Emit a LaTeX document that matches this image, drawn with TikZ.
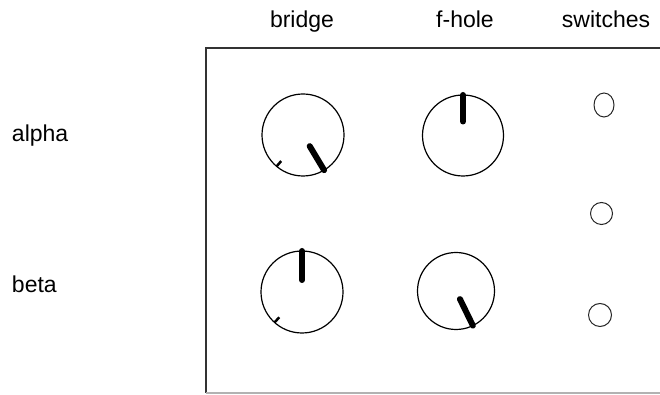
\documentclass[tikz,border=0pt]{standalone}
\usepackage{fontspec}
\setmainfont{Liberation Sans}
\usepackage{tikz}
\usetikzlibrary{shapes.geometric}

\begin{document}
\begin{tikzpicture}[x=1pt, y=1pt,
	every node/.style={inner sep=0pt, outer sep=0pt},
	knob/.style={circle, draw, line width=1.2pt, minimum size=80pt},
	switch/.style={ellipse, draw, line width=1pt, black!85},
	pointer/.style={line width=6pt, line cap=round},
	minmark/.style={line width=2.5pt},
	caption/.style={font=\fontsize{23}{27}\selectfont, anchor=base}]
	\useasboundingbox (0,0) rectangle (660,395);

	% panel outline
	\coordinate (tl) at (206,347);
	\coordinate (tr) at (660,347);
	\coordinate (bl) at (206,2);
	\coordinate (br) at (660,2);
	\draw[line width=1.6pt, black!80] (tr) -- (tl) -- (bl);
	\draw[line width=1.4pt, black!30] (bl) -- (br);

	% column and row captions
	\node[caption] (hBridge) at (302,367) {bridge};
	\node[caption] (hFhole)  at (465,367) {f-hole};
	\node[caption] (hSwitch) at (606,367) {switches};
	\node[caption, anchor=base west] (rAlpha) at (12,253) {alpha};
	\node[caption, anchor=base west] (rBeta)  at (12,102) {beta};

	% knobs
	\node[knob, minimum size=82pt] (bridgeA) at (303,260)   {};
	\node[knob, minimum size=81pt] (fholeA)  at (463,259.5) {};
	\node[knob, minimum size=82pt] (bridgeB) at (302,103)   {};
	\node[knob, minimum size=77pt] (fholeB)  at (456,104)   {};

	\draw[pointer] ([shift={(-59:13pt)}]bridgeA.center) -- (bridgeA.-59);
	\draw[pointer] ([shift={(90:14pt)}]fholeA.center)   -- (fholeA.90);
	\draw[pointer] ([shift={(90:12pt)}]bridgeB.center)  -- (bridgeB.90);
	\draw[pointer] ([shift={(-64:9pt)}]fholeB.center)   -- (fholeB.-64);

	\draw[minmark] ([shift={(230:34pt)}]bridgeA.center) -- (bridgeA.230);
	\draw[minmark] ([shift={(228:34pt)}]bridgeB.center) -- (bridgeB.228);

	% switches
	\node[switch, minimum width=20pt, minimum height=24pt] (swA) at (604,290)   {};
	\node[switch, minimum width=22pt, minimum height=22pt] (swB) at (601.5,181.5) {};
	\node[switch, minimum width=23pt, minimum height=23pt] (swC) at (600,80)    {};
\end{tikzpicture}
\end{document}
